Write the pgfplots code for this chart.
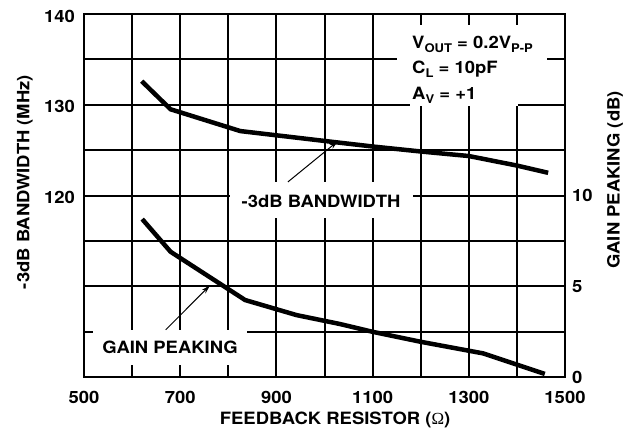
\documentclass[border=0pt]{standalone}
\usepackage{fontspec}
\setmainfont{texgyreheros-bold.otf}[FakeStretch=1.09]
\newfontfamily\omegafont{Liberation Serif}
\usepackage{pgfplots}
\pgfplotsset{compat=1.18}
\usetikzlibrary{calc,arrows.meta}
\newcommand\sub[1]{\raisebox{-4bp}{\fontsize{12}{12}\selectfont #1}}

\begin{document}
\begin{tikzpicture}
\pgfplotsset{
  every axis/.append style={
    font=\fontsize{17}{20}\selectfont,
    scale only axis, width=481bp, height=363bp,
    xmin=500, xmax=1500,
    /pgf/number format/assume math mode=true,
    major tick length=0pt,
    axis line style={line width=2.2bp},
    ticklabel style={font=\fontsize{17}{20}\selectfont},
  },
}
\begin{axis}[name=main, at={(0,0)}, anchor=south west,
  ymin=100, ymax=140,
  xtick={500,600,...,1500},
  xticklabels={500,,700,,900,,1100,,1300,,1500},
  ytick={100,105,...,140},
  yticklabels={,,,,120,,130,,140},
  grid=major, grid style={black, line width=2bp},
  xticklabel style={inner sep=0pt, yshift=-14bp},
  yticklabel style={inner sep=0pt, xshift=-9bp, yshift=-2bp},
  xlabel={FEEDBACK RESISTOR ({\omegafont Ω})},
  every axis x label/.style={at={(axis description cs:0.522,-0.1185)}, anchor=center},
  ylabel={-3dB BANDWIDTH (MHz)},
  every axis y label/.style={at={(axis description cs:-0.1227,0.537)}, anchor=center, rotate=90},
]
% -3dB bandwidth
\addplot[black, line width=4.5bp] coordinates {
  (620,132.6) (680,129.5) (825,127.1) (1010,125.95) (1100,125.4)
  (1200,124.85) (1300,124.35) (1400,123.3) (1465,122.5)
};
% white boxes behind the labels
\fill[white] (axis cs:1150.7,138.8) rectangle (axis cs:1462.6,132.7);
\fill[white] (axis cs:1177.8,132.8) rectangle (axis cs:1402.3,129.86);
\fill[white] (axis cs:803.5,121.5) rectangle (axis cs:1184,117.5);
\fill[white] (axis cs:518.7,105.2) rectangle (axis cs:838.9,101.3);
\node at (axis cs:992.7,119.4) {-3dB BANDWIDTH};
\node at (axis cs:678.8,103.3) {GAIN PEAKING};
\node[anchor=north west, align=left, inner sep=0pt,
      font=\fontsize{17}{25.5}\selectfont] at (axis cs:1182,137.6)
  {V\sub{OUT} = 0.2V\sub{P-P}\\ C\sub{L} = 10pF\\ A\sub{V} = +1};
\draw[line width=1bp, -{Stealth[length=9bp,width=5bp]}]
  (axis cs:924,121.5) -- (axis cs:1028,126.0);
\draw[line width=1bp, -{Stealth[length=9bp,width=5bp]}]
  (axis cs:669.9,105.2) -- (axis cs:762,110.1);
\end{axis}

\begin{axis}[at={(0,0)}, anchor=south west,
  ymin=0, ymax=20,
  axis y line*=right, axis x line=none,
  ytick={0,5,10},
  yticklabel style={inner sep=0pt, xshift=7bp},
  ylabel={GAIN PEAKING (dB)},
  every axis y label/.style={at={(axis description cs:1.104,0.543)}, anchor=center, rotate=90},
]
% gain peaking
\addplot[black, line width=4.5bp] coordinates {
  (621,8.7) (680,6.9) (835,4.24) (942,3.41) (1032,2.92)
  (1100,2.49) (1200,1.94) (1330,1.30) (1458,0.17)
};
\end{axis}
\pgfresetboundingbox
\path (-84bp,-53bp) rectangle (547bp,377bp);
\end{tikzpicture}
\end{document}
